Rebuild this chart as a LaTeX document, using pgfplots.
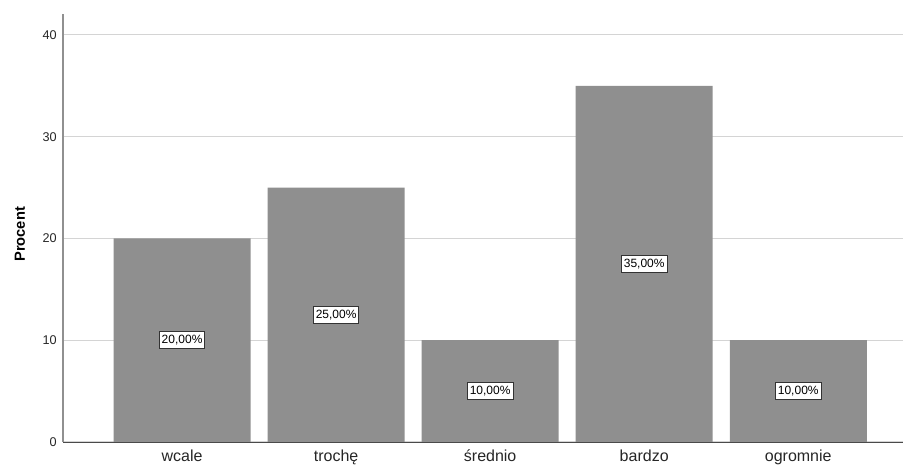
\documentclass[border=0pt]{standalone}
\usepackage{pgfplots}
\pgfplotsset{compat=1.18}
\usepackage{fontspec}
\setmainfont{Liberation Sans}
\definecolor{barfill}{HTML}{8F8F8F}
\definecolor{gridcol}{HTML}{D4D4D4}
\definecolor{yaxiscol}{HTML}{909090}
\definecolor{xaxiscol}{HTML}{4A4A4A}
\begin{document}
\begin{tikzpicture}
\useasboundingbox (0pt,0pt) rectangle (678pt,349.5pt);
\begin{axis}[
  at={(47.25pt,18pt)}, anchor=south west,
  scale only axis, width=630pt, height=321pt,
  xmin=-0.773, xmax=4.68, ymin=0, ymax=42.06,
  axis x line*=bottom, axis y line*=left,
  x axis line style={color=xaxiscol, line width=0.7pt},
  y axis line style={color=yaxiscol, line width=0.8pt},
  xtick={0,1,2,3,4},
  xticklabels={wcale, trochę, średnio, bardzo, ogromnie},
  ytick={0,10,20,30,40},
  major tick length=0pt,
  ymajorgrids, grid style={color=gridcol, line width=0.8pt},
  xticklabel style={font=\fontsize{12}{14}\selectfont, anchor=base, inner sep=0pt, yshift=-14.5pt, text=black!85},
  yticklabel style={font=\fontsize{9.5}{11}\selectfont, anchor=east, inner sep=0pt, xshift=-4.5pt, text=black!85},
  /pgf/number format/assume math mode=true,
  ylabel={Procent},
  ylabel style={font=\bfseries\fontsize{11}{13}\selectfont, at={(axis description cs:-0.0512,0.485)}, anchor=center},
  ybar, bar width=102.75pt,
  nodes near coords={\pgfmathprintnumber[fixed,fixed zerofill,precision=2,use comma]{\pgfplotspointmeta}\%},
  point meta=y,
  visualization depends on={y \as \rawy},
  every node near coord/.append style={
    anchor=center, yshift=-\rawy*3.816pt,
    draw=black!80, fill=white, line width=0.6pt,
    inner xsep=1.8pt, inner ysep=2.6pt,
    font=\fontsize{9}{10}\selectfont, text=black},
]
\addplot[fill=barfill, draw=none] coordinates {
  (0,20) (1,25) (2,10) (3,35) (4,10)
};
\end{axis}
\end{tikzpicture}
\end{document}
